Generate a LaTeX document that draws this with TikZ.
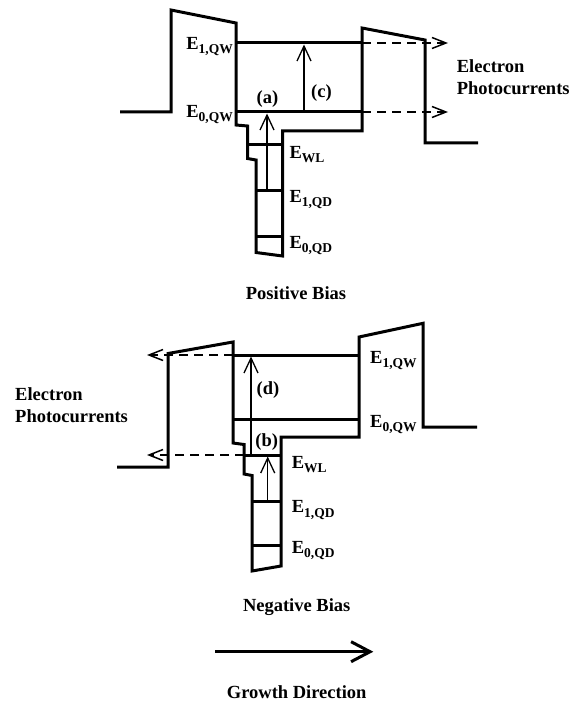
\documentclass[tikz,border=0pt]{standalone}
\usepackage{fontspec}
\setmainfont{Liberation Serif}
\usetikzlibrary{arrows.meta}
\newcommand\Esb[1]{E\raisebox{-4.5pt}{\fontsize{13.5}{13.5}\selectfont #1}}
\begin{document}
\begin{tikzpicture}[x=1pt,y=-1pt,
  band/.style={line width=3pt, line join=miter},
  lvl/.style={line width=3pt},
  trans/.style={line width=1.3pt, -{Straight Barb[length=15pt,width=14pt]}},
  escape/.style={line width=1.5pt, dash pattern=on 9pt off 6pt, -{Straight Barb[length=14pt,width=11pt]}},
  lab/.style={font=\fontsize{18.5}{22.3}\selectfont\bfseries, inner sep=0pt},
  growth/.style={line width=3pt, -{Straight Barb[length=19pt,width=20pt]}}]
\useasboundingbox (0,0) rectangle (582,703);

% ---------------- Positive bias ----------------
\draw[band] (120,112) -- (171,112) -- (171,10) -- (236,23) -- (236,125) -- (247.5,126)
  -- (247.5,158.5) -- (256,160) -- (256,252.5) -- (282.5,256) -- (282.5,131) -- (362,131)
  -- (362,28) -- (425,40) -- (425,143) -- (478,143);
\coordinate (A1L) at (236,43);    \coordinate (A1R) at (362,43);
\coordinate (A0L) at (236,112);   \coordinate (A0R) at (362,112);
\coordinate (AWL) at (247.5,145); \coordinate (AWR) at (282.5,145);
\coordinate (AQ1L) at (256,191);  \coordinate (AQ1R) at (282.5,191);
\coordinate (AQ0L) at (256,236);  \coordinate (AQ0R) at (282.5,236);
\draw[lvl] (A1L) -- (A1R);
\draw[lvl] (A0L) -- (A0R);
\draw[lvl] (AWL) -- (AWR);
\draw[lvl] (AQ1L) -- (AQ1R);
\draw[lvl] (AQ0L) -- (AQ0R);
\coordinate (aS) at (267,191);  \coordinate (aE) at (267,113.5);
\coordinate (cS) at (304,112);  \coordinate (cE) at (304,44.5);
\draw[trans] (aS) -- (aE);
\draw[trans] (cS) -- (cE);
\coordinate (A1T) at (448,43);  \coordinate (A0T) at (448,112);
\draw[escape] (A1R) -- (A1T);
\draw[escape] (A0R) -- (A0T);

\node[lab, anchor=base east] (pE1QW) at (233,49.3) {\Esb{1,QW}};
\node[lab, anchor=base east] (pE0QW) at (233,117.3) {\Esb{0,QW}};
\node[lab, anchor=base west] (pEWL) at (289.3,158.3) {\Esb{WL}};
\node[lab, anchor=base west] (pE1QD) at (289.3,202.3) {\Esb{1,QD}};
\node[lab, anchor=base west] (pE0QD) at (289.3,248.3) {\Esb{0,QD}};
\node[lab] (pa) at (267.5,99) {(a)};
\node[lab] (pc) at (321.5,92.7) {(c)};
\node[lab, anchor=north west, align=left] (pEP) at (456.7,59.3) {Electron\\Photocurrents};
\node[lab] (pcap) at (296,293.3) {Positive Bias};

% ---------------- Negative bias ----------------
\draw[band] (117,467) -- (168,467) -- (168,353.5) -- (233,342) -- (233,443) -- (244,444.5)
  -- (244,474) -- (252,475.5) -- (252,571) -- (281,566) -- (281,437) -- (359,437)
  -- (359,337) -- (423,323.3) -- (423,427) -- (477,427);
\coordinate (B1L) at (233,355);    \coordinate (B1R) at (359,355);
\coordinate (B0L) at (233,419);    \coordinate (B0R) at (359,419);
\coordinate (BWL) at (244,455);    \coordinate (BWR) at (281,455);
\coordinate (BQ1L) at (252,501.7); \coordinate (BQ1R) at (281,501.7);
\coordinate (BQ0L) at (252,545);   \coordinate (BQ0R) at (281,545);
\draw[lvl] (B1L) -- (B1R);
\draw[lvl] (B0L) -- (B0R);
\draw[lvl] (BWL) -- (BWR);
\draw[lvl] (BQ1L) -- (BQ1R);
\draw[lvl] (BQ0L) -- (BQ0R);
\coordinate (dS) at (251,455);    \coordinate (dE) at (251,356.5);
\coordinate (bS) at (267.7,501.7); \coordinate (bE) at (267.7,456.5);
\draw[trans] (dS) -- (dE);
\draw[trans] (bS) -- (bE);
\coordinate (B1T) at (147,355);  \coordinate (BWT) at (147,455);
\draw[escape] (B1L) -- (B1T);
\draw[escape] (BWL) -- (BWT);

\node[lab, anchor=base west] (nE1QW) at (370,363.3) {\Esb{1,QW}};
\node[lab, anchor=base west] (nE0QW) at (370,427.3) {\Esb{0,QW}};
\node[lab, anchor=base west] (nEWL) at (291.7,468.3) {\Esb{WL}};
\node[lab, anchor=base west] (nE1QD) at (291.7,512.7) {\Esb{1,QD}};
\node[lab, anchor=base west] (nE0QD) at (291.7,553.3) {\Esb{0,QD}};
\node[lab] (nd) at (268,390) {(d)};
\node[lab] (nb) at (266.7,441.7) {(b)};
\node[lab, anchor=north west, align=left] (nEP) at (15,387) {Electron\\Photocurrents};
\node[lab] (ncap) at (296.7,606.7) {Negative Bias};

% ---------------- Growth direction ----------------
\coordinate (g1) at (215,651.7); \coordinate (g2) at (373.3,651.7);
\draw[growth] (g1) -- (g2);
\node[lab] (gcap) at (296.7,692.5) {Growth Direction};
\end{tikzpicture}
\end{document}
